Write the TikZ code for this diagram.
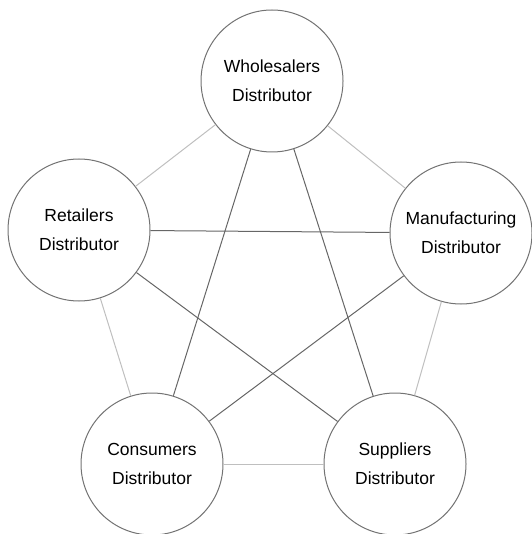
\documentclass[tikz,border=0pt]{standalone}
\usepackage{fontspec}
\setmainfont{Liberation Sans}
\usepackage{tikz}

\begin{document}
\begin{tikzpicture}[
    x=1pt, y=-1pt,
    dist/.style={draw=black!55, circle, line width=1pt, minimum size=142pt, inner sep=0pt,
        align=center, font=\fontsize{17.5}{29}\selectfont},
    ring/.style={draw=black!25, line width=1pt},
    star/.style={draw=black!60, line width=1pt}
]
\useasboundingbox (0,0) rectangle (531,534);

\node[dist] (whole) at (272,81) {Wholesalers\\Distributor};
\node[dist] (retail) at (79,230) {Retailers\\Distributor};
\node[dist] (manuf) at (461,233) {Manufacturing\\Distributor};
\node[dist] (cons) at (152,464) {Consumers\\Distributor};
\node[dist] (supp) at (395,464) {Suppliers\\Distributor};

% outer pentagon
\draw[ring] (whole) -- (retail);
\draw[ring] (whole) -- (manuf);
\draw[ring] (retail) -- (cons);
\draw[ring] (manuf) -- (supp);
\draw[ring] (cons) -- (supp);

% inner star
\draw[star] (whole) -- (cons);
\draw[star] (whole) -- (supp);
\draw[star] (retail) -- (manuf);
\draw[star] (retail) -- (supp);
\draw[star] (manuf) -- (cons);
\end{tikzpicture}
\end{document}
